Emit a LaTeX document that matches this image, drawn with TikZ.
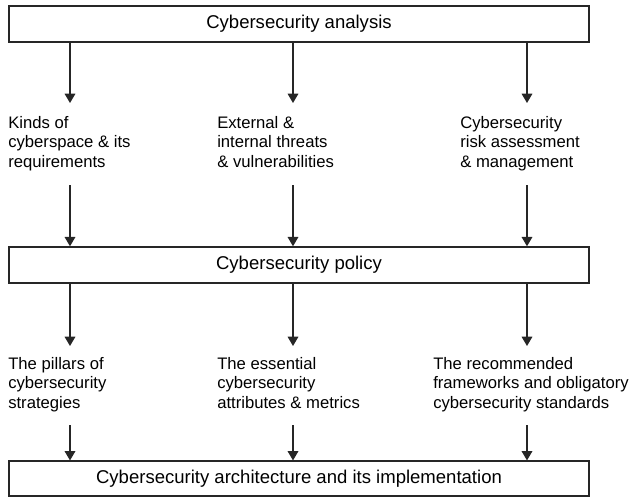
\documentclass[tikz,border=0pt]{standalone}
\usepackage{fontspec}
\setmainfont{Liberation Sans}
\usetikzlibrary{arrows.meta,positioning}
\tikzset{
  stage/.style={draw=black!85, line width=1.1pt, minimum width=435pt,
    minimum height=27pt, inner sep=0pt, font=\fontsize{13.9}{16}\selectfont},
  topic/.style={anchor=north west, align=left, inner sep=0pt,
    font=\fontsize{12.5}{14.5}\selectfont},
  flow/.style={draw=black!85, line width=0.9pt, -{Triangle[width=8pt,length=7pt]}}
}

\begin{document}
\begin{tikzpicture}[x=0.75pt,y=-0.75pt]
        \useasboundingbox (0,0) rectangle (631,497);
        % The stages
        \node[stage] (analysis) at (299,24) {Cybersecurity analysis};
        \node[stage] (policy) at (299,265) {Cybersecurity policy};
        \node[stage,minimum height=26pt] (architecture) at (299,478.5)
          {Cybersecurity architecture and its implementation};

        % What the analysis looks at
        \node[topic] (kinds) at (8,116) {Kinds of\\cyberspace \& its\\requirements};
        \node[topic] (threats) at (217,116) {External \&\\internal threats\\\& vulnerabilities};
        \node[topic] (risk) at (460,116) {Cybersecurity\\risk assessment\\\& management};

        % What the policy sets out
        \node[topic] (pillars) at (8,357) {The pillars of\\cybersecurity\\strategies};
        \node[topic] (attributes) at (217,357) {The essential\\cybersecurity\\attributes \& metrics};
        \node[topic] (standards) at (433,357) {The recommended\\frameworks and obligatory\\cybersecurity standards};

        % Free ends of the arrows
        \coordinate (kinds in) at (70,103);
        \coordinate (threats in) at (293,103);
        \coordinate (risk in) at (527,103);
        \coordinate (kinds out) at (70,185);
        \coordinate (threats out) at (293,185);
        \coordinate (risk out) at (527,185);
        \coordinate (pillars in) at (70,346);
        \coordinate (attributes in) at (293,346);
        \coordinate (standards in) at (527,346);
        \coordinate (pillars out) at (70,425);
        \coordinate (attributes out) at (293,425);
        \coordinate (standards out) at (527,425);

        % Analysis -> topics -> policy
        \draw[flow] (analysis.south -| kinds in) -- (kinds in);
        \draw[flow] (analysis.south -| threats in) -- (threats in);
        \draw[flow] (analysis.south -| risk in) -- (risk in);
        \draw[flow] (kinds out) -- (kinds out |- policy.north);
        \draw[flow] (threats out) -- (threats out |- policy.north);
        \draw[flow] (risk out) -- (risk out |- policy.north);

        % Policy -> topics -> architecture
        \draw[flow] (policy.south -| pillars in) -- (pillars in);
        \draw[flow] (policy.south -| attributes in) -- (attributes in);
        \draw[flow] (policy.south -| standards in) -- (standards in);
        \draw[flow] (pillars out) -- (pillars out |- architecture.north);
        \draw[flow] (attributes out) -- (attributes out |- architecture.north);
        \draw[flow] (standards out) -- (standards out |- architecture.north);
\end{tikzpicture}
\end{document}
